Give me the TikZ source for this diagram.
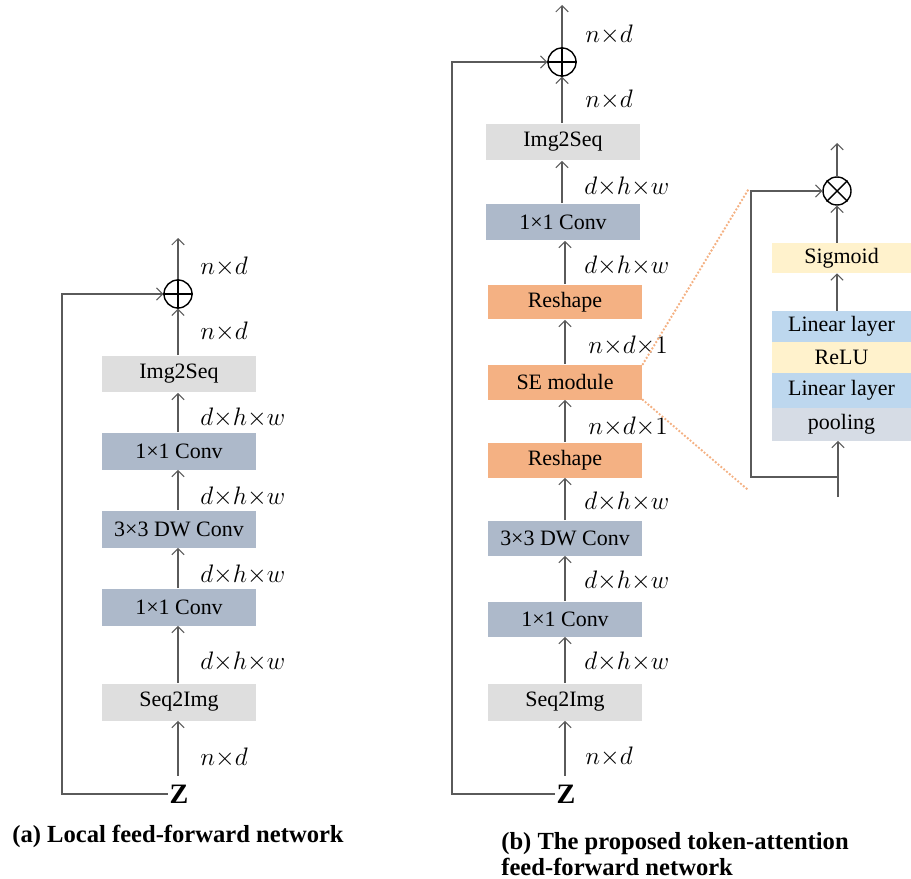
\documentclass[tikz,border=0pt]{standalone}
\usepackage{fontspec}
\setmainfont{Liberation Serif}
\usetikzlibrary{arrows.meta,calc}
\definecolor{boxgray}{HTML}{DEDEDE}
\definecolor{convblue}{HTML}{ADB9CA}
\definecolor{orangebox}{HTML}{F4B183}
\definecolor{yellowbox}{HTML}{FFF2CC}
\definecolor{bluebox}{HTML}{BDD7EE}
\definecolor{poolbox}{HTML}{D6DCE5}
\definecolor{linegray}{HTML}{5A5A5A}
\begin{document}
\begin{tikzpicture}[x=0.02cm,y=-0.02cm,
  blk/.style={minimum width=3.1cm, minimum height=0.74cm, inner sep=0pt, font=\fontsize{12.5}{14}\selectfont},
  gbox/.style={blk, fill=boxgray},
  cbox/.style={blk, fill=convblue},
  obox/.style={blk, fill=orangebox},
  sebox/.style={minimum width=2.78cm, inner sep=0pt, font=\fontsize{12.5}{14}\selectfont},
  lab/.style={anchor=west, inner sep=0pt, font=\fontsize{14}{16}\selectfont},
  arr/.style={draw=linegray, line width=0.6pt, -{Straight Barb[length=3.5pt,width=7pt]}},
  sumnode/.style={circle, draw=black, line width=0.8pt, minimum size=0.56cm, inner sep=0pt},
  zlab/.style={inner sep=1pt, font=\fontsize{16}{18}\selectfont\bfseries},
  captext/.style={inner sep=0pt, anchor=base west, font=\fontsize{14}{15}\selectfont\bfseries},
  dotl/.style={draw=orangebox, line width=1.5pt, line cap=round, dash pattern=on 0pt off 2.1pt}
]
\useasboundingbox (0,0) rectangle (911,878);

% ---------------- (a) ----------------
\node[sumnode] (pa) at (178,294) {};
\draw[black, line width=0.8pt] (pa.north) -- (pa.south) (pa.west) -- (pa.east);
\node[gbox] (a1) at (179,374) {Img2Seq};
\node[cbox] (a2) at (179,451) {1×1 Conv};
\node[cbox] (a3) at (179,529) {3×3 DW Conv};
\node[cbox] (a4) at (179,607) {1×1 Conv};
\node[gbox] (a5) at (179,702) {Seq2Img};
\node[zlab] (za) at (179,794) {Z};
\coordinate (atop) at (178,238);
\coordinate (aleft) at (62,294);

\draw[arr] (pa.north) -- (atop);
\draw[arr] (a1.north -| pa) -- (pa.south);
\draw[arr] (a2.north -| pa) -- (a1.south -| pa);
\draw[arr] (a3.north -| pa) -- (a2.south -| pa);
\draw[arr] (a4.north -| pa) -- (a3.south -| pa);
\draw[arr] (a5.north -| pa) -- (a4.south -| pa);
\draw[arr, shorten <=4pt] (za.north -| pa) -- (a5.south -| pa);
\draw[arr] (za.west) -| (aleft) -- (pa.west);

\node[lab] (la1) at (200,267) {$n{\times}d$};
\node[lab] (la2) at (200,332) {$n{\times}d$};
\node[lab] (la3) at (200,418) {$d{\times}h{\times}w$};
\node[lab] (la4) at (200,497) {$d{\times}h{\times}w$};
\node[lab] (la5) at (200,575) {$d{\times}h{\times}w$};
\node[lab] (la6) at (200,662) {$d{\times}h{\times}w$};
\node[lab] (la7) at (200,758) {$n{\times}d$};

\node[captext] (capa) at (12,842) {(a) Local feed-forward network};

% ---------------- (b) ----------------
\node[sumnode] (pb) at (562,62) {};
\draw[black, line width=0.8pt] (pb.north) -- (pb.south) (pb.west) -- (pb.east);
\node[gbox] (b1) at (563,142) {Img2Seq};
\node[cbox] (b2) at (563,222) {1×1 Conv};
\node[obox, minimum height=0.7cm] (b3) at (565,302) {Reshape};
\node[obox, minimum height=0.7cm] (b4) at (565,382) {SE module};
\node[obox, minimum height=0.7cm] (b5) at (565,460) {Reshape};
\node[cbox, minimum height=0.7cm] (b6) at (565,538) {3×3 DW Conv};
\node[cbox, minimum height=0.7cm] (b7) at (565,619) {1×1 Conv};
\node[gbox] (b8) at (565,702) {Seq2Img};
\node[zlab] (zb) at (566,794) {Z};
\coordinate (btop) at (562,5);
\coordinate (bleft) at (452,62);

\draw[arr] (pb.north) -- (btop);
\draw[arr] (b1.north -| pb) -- (pb.south);
\draw[arr] (b2.north -| pb) -- (b1.south -| pb);
\draw[arr] (b3.north -| b4) -- (b2.south -| b4);
\draw[arr] (b4.north) -- (b3.south);
\draw[arr] (b5.north) -- (b4.south);
\draw[arr] (b6.north) -- (b5.south);
\draw[arr] (b7.north) -- (b6.south);
\draw[arr] (b8.north) -- (b7.south);
\draw[arr, shorten <=4pt] (zb.north -| b8) -- (b8.south);
\draw[arr] (zb.west) -| (bleft) -- (pb.west);

\node[lab] (lb1) at (585,35) {$n{\times}d$};
\node[lab] (lb2) at (585,100) {$n{\times}d$};
\node[lab] (lb3) at (584,187) {$d{\times}h{\times}w$};
\node[lab] (lb4) at (584,266) {$d{\times}h{\times}w$};
\node[lab] (lb5) at (588,346) {$n{\times}d{\times}1$};
\node[lab] (lb6) at (588,427) {$n{\times}d{\times}1$};
\node[lab] (lb7) at (584,502) {$d{\times}h{\times}w$};
\node[lab] (lb8) at (584,581) {$d{\times}h{\times}w$};
\node[lab] (lb9) at (584,662) {$d{\times}h{\times}w$};
\node[lab] (lb10) at (585,757) {$n{\times}d$};

\node[captext] (capb1) at (501,849) {(b) The proposed token-attention};
\node[captext] (capb2) at (501,875) {feed-forward network};

% ---------------- SE detail ----------------
\node[sumnode] (ox) at (837,191) {};
\draw[black, line width=0.8pt] (ox.45) -- (ox.225) (ox.135) -- (ox.315);
\node[sebox, fill=yellowbox, minimum height=0.6cm] (sg) at (841.5,258) {Sigmoid};
\node[sebox, fill=bluebox, minimum height=0.62cm] (l1) at (841.5,326.5) {Linear layer};
\node[sebox, fill=yellowbox, minimum height=0.62cm] (rl) at (841.5,357.5) {ReLU};
\node[sebox, fill=bluebox, minimum height=0.7cm] (l2) at (841.5,390) {Linear layer};
\node[sebox, fill=poolbox, minimum height=0.66cm] (pl) at (841.5,424) {pooling};
\coordinate (seIn) at (838,497);
\coordinate (seBr) at (838,477);
\coordinate (seL) at (751,477);
\coordinate (seT) at (751,191);
\coordinate (seTop) at (837,143);

\draw[arr] (seIn) -- (pl.south -| seIn);
\draw[arr] (seBr) -- (seL) -- (seT) -- (ox.west);
\draw[arr] (sg.north -| ox) -- (ox.south);
\draw[arr] (l1.north -| ox) -- (sg.south -| ox);
\draw[arr] (ox.north) -- (seTop);

\coordinate (dTop) at (748,190);
\coordinate (dBot) at (747,489);
\draw[dotl] (b4.north east) -- (dTop);
\draw[dotl] (b4.south east) -- (dBot);
\end{tikzpicture}
\end{document}
